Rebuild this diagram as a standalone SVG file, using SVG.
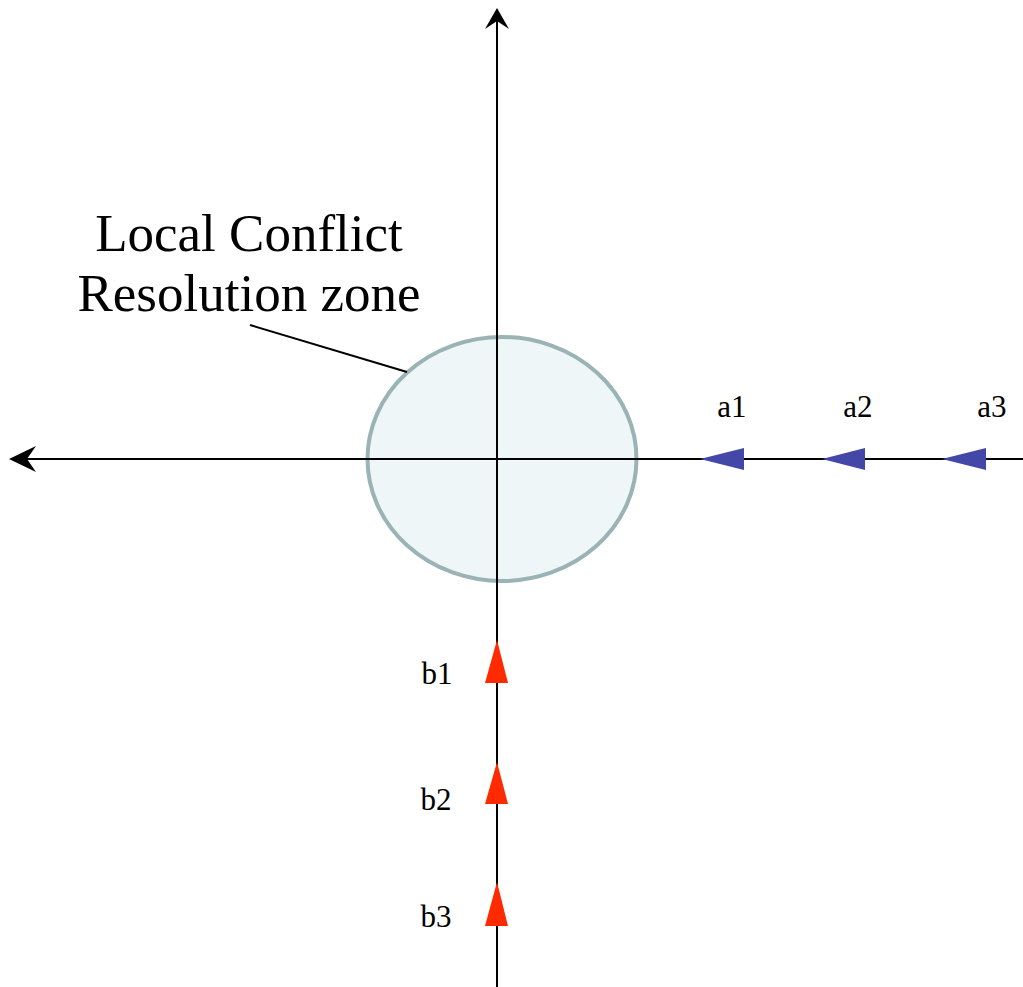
<svg xmlns="http://www.w3.org/2000/svg" width="1023" height="987" viewBox="0 0 1023 987">
<style>
.ax{stroke:#000;stroke-width:2;fill:none}
.ah{fill:#000;stroke:none}
.lbl{font-family:"Liberation Serif",serif;font-size:31px;fill:#000;text-anchor:middle}
.big{font-family:"Liberation Serif",serif;font-size:53px;fill:#000;text-anchor:middle}
.blue{fill:#4347a8}
.red{fill:#ff2a00}
</style>
<rect width="1023" height="987" fill="#fff"/>
<g id="zone">
<ellipse cx="502" cy="459" rx="134.5" ry="122" fill="#eef6f8" stroke="#9ab3b5" stroke-width="4"/>
</g>
<g id="connectors">
<line class="ax" x1="497" y1="12" x2="497" y2="987"/>
<path class="ah" d="M497,8 L509,29 L497,21 L485,29 Z"/>
<line class="ax" x1="14" y1="459" x2="1023" y2="459"/>
<path class="ah" d="M9,459 L36,446 L27,459 L36,472 Z"/>
<line x1="250" y1="325" x2="407" y2="372" stroke="#000" stroke-width="2"/>
</g>
<g id="label">
<text class="big" x="249" y="251">Local Conflict</text>
<text class="big" x="249" y="311">Resolution zone</text>
</g>
<g id="a1"><path class="blue" d="M700,459 L744,448 L744,470 Z"/><text class="lbl" x="732" y="417">a1</text></g>
<g id="a2"><path class="blue" d="M822,459 L865,448 L865,470 Z"/><text class="lbl" x="858" y="417">a2</text></g>
<g id="a3"><path class="blue" d="M942,459 L986,448 L986,470 Z"/><text class="lbl" x="992" y="417">a3</text></g>
<g id="b1"><path class="red" d="M497,640 L485,683 L508,683 Z"/><text class="lbl" x="437" y="684">b1</text></g>
<g id="b2"><path class="red" d="M497,762 L485,804 L508,804 Z"/><text class="lbl" x="436" y="810">b2</text></g>
<g id="b3"><path class="red" d="M497,882 L485,926 L508,926 Z"/><text class="lbl" x="436" y="927">b3</text></g>
</svg>
